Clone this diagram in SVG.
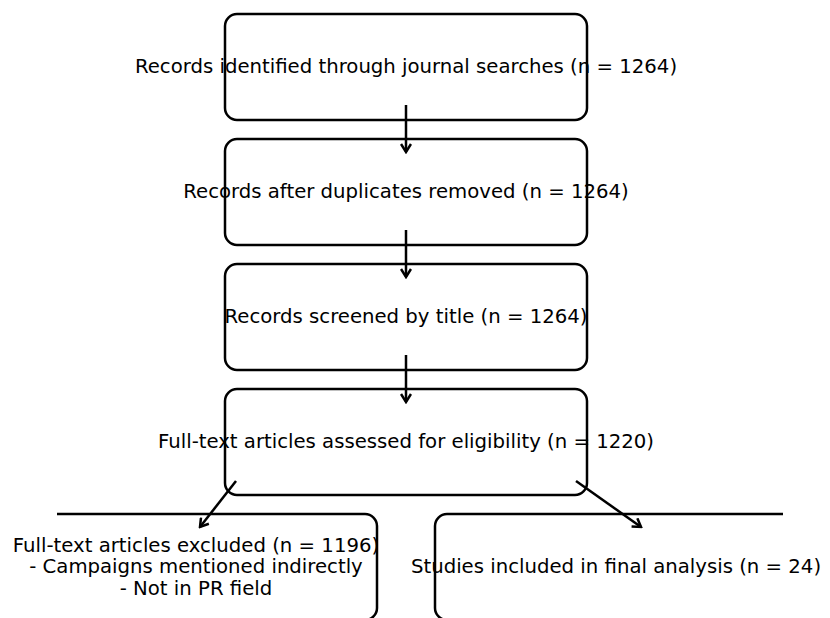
<svg xmlns="http://www.w3.org/2000/svg" width="830" height="618" viewBox="0 0 830 618">
<style>
.box{fill:none;stroke:#000;stroke-width:2.5}
.t{font-family:"DejaVu Sans",sans-serif;font-size:19.7px;fill:#000;text-anchor:middle;dominant-baseline:central}
.c{stroke:#000;stroke-width:2.5;fill:none}
</style>
<defs>
<marker id="ah" markerWidth="12" markerHeight="12" refX="10" refY="6" orient="auto" markerUnits="userSpaceOnUse">
<polyline points="2,1 10,6 2,11" fill="none" stroke="#000" stroke-width="2.5"/>
</marker>
<clipPath id="ax"><rect x="57" y="0" width="726" height="618"/></clipPath>
</defs>
<rect width="830" height="618" fill="#fff"/>
<g id="n1"><rect class="box" x="225" y="14" width="362" height="106" rx="12"/><text class="t" x="406" y="66">Records identified through journal searches (n = 1264)</text></g>
<g id="n2"><rect class="box" x="225" y="139" width="362" height="106" rx="12"/><text class="t" x="406" y="191">Records after duplicates removed (n = 1264)</text></g>
<g id="n3"><rect class="box" x="225" y="264" width="362" height="106" rx="12"/><text class="t" x="406" y="316">Records screened by title (n = 1264)</text></g>
<g id="n4"><rect class="box" x="225" y="389" width="362" height="106" rx="12"/><text class="t" x="406" y="441">Full-text articles assessed for eligibility (n = 1220)</text></g>
<g id="n5"><rect class="box" x="20" y="514" width="357" height="106" rx="12" clip-path="url(#ax)"/><text class="t" x="196" y="545">Full-text articles excluded (n = 1196)</text><text class="t" x="196" y="566">- Campaigns mentioned indirectly</text><text class="t" x="196" y="588">- Not in PR field</text></g>
<g id="n6"><rect class="box" x="435" y="514" width="400" height="106" rx="12" clip-path="url(#ax)"/><text class="t" x="616" y="566">Studies included in final analysis (n = 24)</text></g>
<g id="connectors">
<line class="c" x1="406" y1="105" x2="406" y2="152" marker-end="url(#ah)"/>
<line class="c" x1="406" y1="230" x2="406" y2="277" marker-end="url(#ah)"/>
<line class="c" x1="406" y1="355" x2="406" y2="402" marker-end="url(#ah)"/>
<line class="c" x1="236" y1="481" x2="200" y2="527" marker-end="url(#ah)"/>
<line class="c" x1="576" y1="481" x2="641" y2="527" marker-end="url(#ah)"/>
</g>
</svg>
